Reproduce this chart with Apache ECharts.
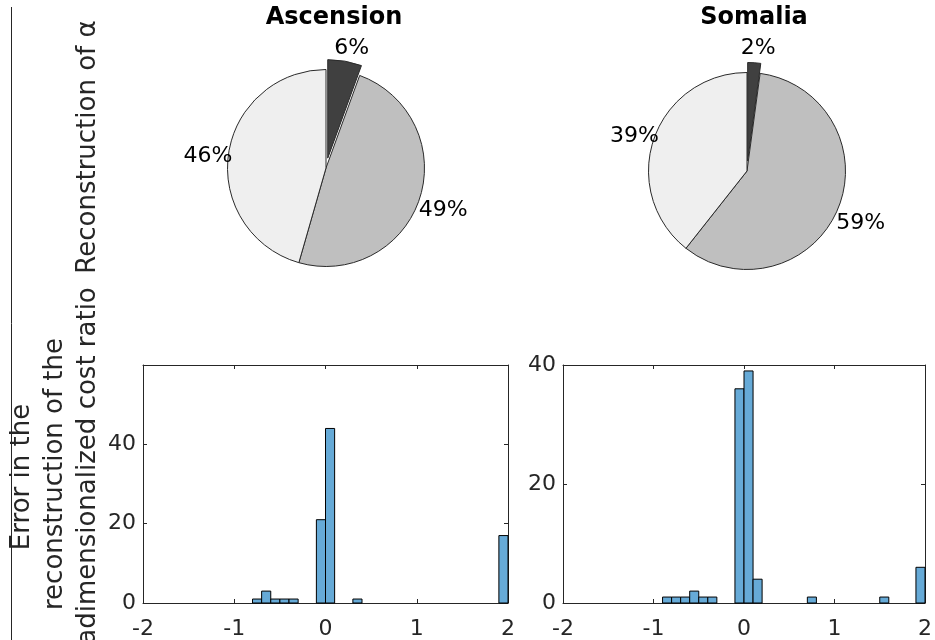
<!DOCTYPE html>
<html>
<head>
<meta charset="utf-8">
<script src="https://cdn.jsdelivr.net/npm/echarts@6/dist/echarts.min.js"></script>
<style>
html,body{margin:0;padding:0;background:#fff;}
#chart{width:935px;height:640px;}
</style>
</head>
<body>
<div id="chart"></div>
<script>
// ---- Data ----
const titles = ['Ascension', 'Somalia'];
const pieCategories = ['Category 1', 'Category 2', 'Category 3'];
const ascPie = [5, 44, 41];
const somPie = [2, 55, 37];

const binWidth = 0.1;
const ascBinLeft = [-0.8, -0.7, -0.6, -0.5, -0.4, -0.1, 0.0, 0.3, 1.9];
const ascCounts  = [1, 3, 1, 1, 1, 21, 44, 1, 17];
const somBinLeft = [-0.9, -0.8, -0.7, -0.6, -0.5, -0.4, -0.1, 0.0, 0.1, 0.7, 1.5, 1.9];
const somCounts  = [1, 1, 1, 2, 1, 1, 36, 39, 4, 1, 1, 6];

const xTicks = [-2, -1, 0, 1, 2];
const ascYMax = 60, somYMax = 40, yInterval = 20;

const rowLabelTop = 'Reconstruction of α';
const rowLabelBottom = ['Error in the', 'reconstruction of the', 'adimensionalized cost ratio'];

// ---- Styles ----
const FONT = 'DejaVu Sans';
const AX = '#262626';
const pieColors = ['#404040', '#bfbfbf', '#efefef'];
const barColor = '#66aad7';
const LABEL_OFFSET = [2, 5];
const YLABEL_SIZE = 26;

function pieData(vals) {
  return vals.map((v, i) => ({ name: pieCategories[i], value: v, selected: i === 0,
    itemStyle: { color: pieColors[i] } }));
}
function pctFormatter(vals) {
  const tot = vals.reduce((a, b) => a + b, 0);
  return p => Math.round(p.value / tot * 100) + '%';
}
function pieSeries(vals, center, r) {
  const lbl = { show: true, position: 'inside', fontFamily: FONT, fontSize: 22, color: '#000',
      offset: LABEL_OFFSET, formatter: pctFormatter(vals) };
  return [{
    type: 'pie', center: center, radius: [0, r], startAngle: 90, clockwise: true,
    selectedMode: 'multiple', selectedOffset: 10, silent: true, avoidLabelOverlap: false,
    label: { show: false }, labelLine: { show: false },
    itemStyle: { borderColor: '#2a2a2a', borderWidth: 1 },
    emphasis: { disabled: true },
    data: pieData(vals)
  }, {
    type: 'pie', center: center, radius: [r * 1.1, r * 1.3], startAngle: 90, clockwise: true,
    selectedMode: 'multiple', selectedOffset: 10, silent: true, avoidLabelOverlap: false,
    itemStyle: { color: 'rgba(0,0,0,0)', borderWidth: 0 },
    label: lbl,
    labelLine: { show: false },
    emphasis: { disabled: true },
    select: { label: lbl, itemStyle: { color: 'rgba(0,0,0,0)', borderWidth: 0 } },
    data: vals.map((v, i) => ({ name: pieCategories[i], value: v, selected: i === 0,
      itemStyle: { color: 'rgba(0,0,0,0)' } }))
  }];
}

function histRender(params, api) {
  const x0 = api.value(0), c = api.value(1);
  const p0 = api.coord([x0, 0]);
  const p1 = api.coord([x0 + binWidth, c]);
  return {
    type: 'rect',
    shape: { x: p0[0], y: p1[1], width: p1[0] - p0[0], height: p0[1] - p1[1] },
    style: { fill: barColor, stroke: '#000', lineWidth: 1 }
  };
}

function xAxes(grid) {
  const base = { type: 'value', gridIndex: grid, min: xTicks[0], max: xTicks[xTicks.length - 1], interval: 1,
    splitLine: { show: false },
    axisLine: { show: true, onZero: false, lineStyle: { color: AX, width: 1 } },
    axisTick: { show: true, inside: true, length: 4, lineStyle: { color: AX } } };
  return [
    Object.assign({}, base, { position: 'bottom',
      axisLabel: { show: true, fontFamily: FONT, fontSize: 22, color: AX, margin: 15,
        showMinLabel: true, showMaxLabel: true } }),
    Object.assign({}, base, { position: 'top', axisLabel: { show: false } })
  ];
}
function yAxes(grid, max) {
  const base = { type: 'value', gridIndex: grid, min: 0, max: max, interval: yInterval,
    splitLine: { show: false },
    axisLine: { show: true, onZero: false, lineStyle: { color: AX, width: 1 } },
    axisTick: { show: true, inside: true, length: 4, lineStyle: { color: AX } } };
  return [
    Object.assign({}, base, { position: 'left',
      axisLabel: { show: true, fontFamily: FONT, fontSize: 22, color: AX, margin: 7,
        showMaxLabel: max === somYMax } }),
    Object.assign({}, base, { position: 'right', axisLabel: { show: false } })
  ];
}

function vText(text, x, y) {
  return { type: 'text', x: x, y: y, rotation: Math.PI / 2, silent: true,
    style: { text: text, fontFamily: FONT, fontSize: YLABEL_SIZE, fill: AX,
      textAlign: 'center', textVerticalAlign: 'middle' } };
}

const chart = echarts.init(document.getElementById('chart'), null, { renderer: 'canvas' });
const option = {
  animation: false,
  backgroundColor: '#fff',
  grid: [
    { left: 143, top: 365, width: 365, height: 238 },
    { left: 563, top: 365, width: 364, height: 238 }
  ],
  xAxis: xAxes(0).concat(xAxes(1)),
  yAxis: yAxes(0, ascYMax).concat(yAxes(1, somYMax)),
  series: [
    ...pieSeries(ascPie, [326, 168], 98.5),
    ...pieSeries(somPie, [747, 171], 98.5),
    { type: 'custom', xAxisIndex: 0, yAxisIndex: 0, renderItem: histRender, silent: true,
      encode: { x: 0, y: 1 }, data: ascBinLeft.map((x, i) => [x, ascCounts[i]]) },
    { type: 'custom', xAxisIndex: 2, yAxisIndex: 2, renderItem: histRender, silent: true,
      encode: { x: 0, y: 1 }, data: somBinLeft.map((x, i) => [x, somCounts[i]]) }
  ],
  graphic: [
    { type: 'line', shape: { x1: 11.5, y1: 7, x2: 11.5, y2: 640 }, style: { stroke: AX, lineWidth: 1 }, silent: true },
    { type: 'text', x: 334, y: 18, style: { text: titles[0], fontFamily: FONT, fontWeight: 'bold', fontSize: 24,
        fill: '#000', textAlign: 'center', textVerticalAlign: 'middle' } },
    { type: 'text', x: 754, y: 18, style: { text: titles[1], fontFamily: FONT, fontWeight: 'bold', fontSize: 24,
        fill: '#000', textAlign: 'center', textVerticalAlign: 'middle' } },
    vText(rowLabelTop, 88, 147),
    vText(rowLabelBottom[0], 22, 477),
    vText(rowLabelBottom[1], 55, 474),
    vText(rowLabelBottom[2], 88, 466)
  ]
};
chart.setOption(option);
</script>
</body>
</html>
